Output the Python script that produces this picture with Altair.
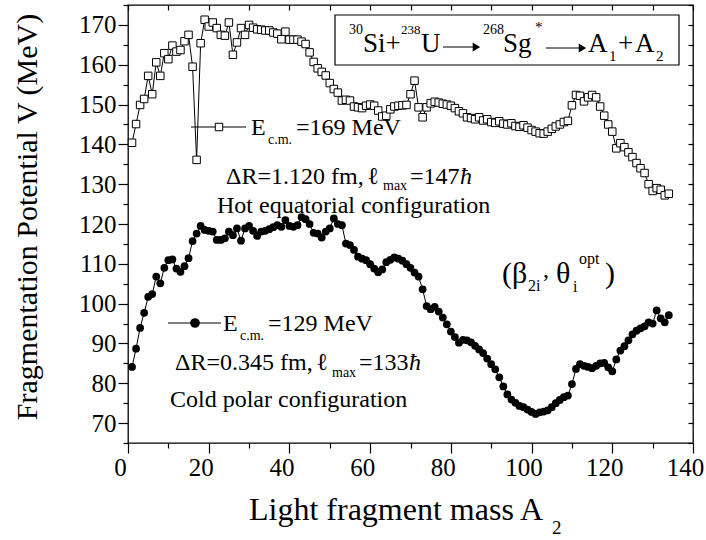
import altair as alt
import pandas as pd

# ---------------- data ----------------
A_hot = list(range(1, 135))
V_hot = [140.4, 145.1, 149.9, 151.4, 157.2, 152.6, 160.6, 157.2, 162.9, 161.4,
         164.8, 163.3, 163.7, 165.9, 167.5, 159.5, 136.1, 165.4, 171.3, 169.6,
         170.6, 169.2, 167.5, 167.3, 170.6, 162.5, 165.6, 169.2, 167.5, 170.0,
         169.3, 168.9, 168.8, 168.6, 168.6, 168.1, 167.8, 166.4, 168.3, 166.3,
         166.3, 166.3, 165.8, 165.2, 163.1, 160.7, 159.1, 158.2, 157.3, 155.4,
         153.9, 153.0, 151.0, 151.2, 151.0, 149.5, 149.3, 149.1, 149.7, 150.0,
         149.7, 148.5, 147.0, 147.2, 148.8, 149.5, 149.7, 149.8, 149.9, 152.6,
         156.0, 149.3, 146.8, 149.3, 150.3, 150.7, 150.5, 150.2, 150.0, 149.7,
         149.1, 148.3, 147.8, 146.8, 146.6, 146.3, 146.8, 146.0, 146.3, 145.6,
         145.4, 145.8, 145.2, 145.0, 145.3, 144.6, 144.4, 144.8, 144.2, 143.6,
         143.2, 142.8, 142.7, 143.2, 143.9, 144.5, 145.0, 145.6, 145.9, 149.8,
         152.4, 152.2, 150.8, 151.8, 152.4, 151.8, 149.5, 147.2, 145.0, 143.2,
         139.0, 140.3, 139.3, 138.0, 136.8, 135.3, 134.0, 132.8, 130.0, 128.3,
         129.0, 128.6, 127.2, 127.6]

A_cold = list(range(1, 135))
V_cold = [84.1, 88.7, 93.9, 97.7, 101.7, 102.4, 106.8, 105.1, 109.0, 110.9,
          111.1, 108.8, 108.0, 109.4, 111.4, 115.7, 117.6, 119.5, 118.5, 118.3,
          118.1, 116.0, 116.0, 116.4, 118.1, 117.2, 118.9, 115.8, 118.9, 119.5,
          118.3, 117.0, 118.1, 118.3, 118.7, 119.2, 119.7, 119.3, 121.0, 119.5,
          119.3, 119.7, 121.7, 121.2, 120.0, 117.8, 117.6, 116.6, 118.1, 118.9,
          121.4, 120.0, 119.7, 115.1, 114.7, 113.5, 111.8, 111.3, 110.9, 109.9,
          108.8, 107.9, 108.6, 110.4, 111.0, 111.6, 111.3, 110.8, 109.9, 109.0,
          107.8, 106.8, 103.6, 99.4, 98.6, 99.2, 98.0, 96.5, 94.8, 93.0,
          91.6, 90.2, 90.9, 90.8, 90.3, 89.4, 88.5, 87.6, 86.2, 84.8,
          83.5, 81.5, 79.2, 77.2, 75.9, 75.1, 74.3, 74.0, 73.4, 72.8,
          72.3, 72.7, 72.9, 73.2, 74.0, 75.0, 75.8, 76.5, 76.9, 79.8,
          83.6, 84.8, 84.4, 84.1, 83.8, 84.4, 85.0, 85.1, 84.0, 83.0,
          86.0, 88.2, 89.3, 90.8, 92.3, 93.2, 93.8, 94.3, 95.3, 95.0,
          98.3, 96.3, 95.3, 97.1]

x_tick_values = list(range(0, 141, 10))
y_tick_values = list(range(65, 176, 5))
x_domain = [0, 140]
y_domain = [65, 175]

hot = pd.DataFrame({"A": A_hot, "V": V_hot})
cold = pd.DataFrame({"A": A_cold, "V": V_cold})

# ---------------- layout ----------------
W, H = 565, 438
X0, Y0 = 128, 5
FONT = "Liberation Serif"

xs = alt.Scale(domain=x_domain, nice=False, zero=False)
ys = alt.Scale(domain=y_domain, nice=False, zero=False)

common_axis = dict(domain=False, grid=False, tickColor="black", tickWidth=1.2,
                   labelFont=FONT, labelFontSize=25, labelColor="black",
                   title=None, labelFlush=False, labelOverlap=False)

x_bottom = alt.Axis(orient="bottom", values=x_tick_values,
                    labelExpr="datum.value % 20 === 0 ? datum.label : ''",
                    tickSize={"condition": {"test": "datum.value % 20 === 0", "value": 10}, "value": 5},
                    labelPadding=2, labelOffset=-8, **common_axis)
y_left = alt.Axis(orient="left", values=y_tick_values,
                  labelExpr="datum.value % 10 === 0 ? datum.label : ''",
                  tickSize={"condition": {"test": "datum.value % 10 === 0", "value": 10}, "value": 5},
                  labelPadding=2, **common_axis)
x_top = alt.Axis(orient="top", values=x_tick_values, labels=False, tickSize=5,
                 offset=-5, domain=False, grid=False, tickColor="black", tickWidth=1.2, title=None)
y_right = alt.Axis(orient="right", values=y_tick_values, labels=False, tickSize=5,
                   offset=-5, domain=False, grid=False, tickColor="black", tickWidth=1.2, title=None)

hot_line = alt.Chart(hot).mark_line(color="black", strokeWidth=1).encode(
    x=alt.X("A:Q", scale=xs, axis=x_bottom),
    y=alt.Y("V:Q", scale=ys, axis=y_left),
)
hot_pts = alt.Chart(hot).mark_point(shape="square", filled=True, fill="white",
                                    stroke="black", strokeWidth=1, size=56, opacity=1).encode(
    x=alt.X("A:Q", scale=xs, axis=None),
    y=alt.Y("V:Q", scale=ys, axis=None),
)
cold_line = alt.Chart(cold).mark_line(color="black", strokeWidth=1).encode(
    x=alt.X("A:Q", scale=xs, axis=None),
    y=alt.Y("V:Q", scale=ys, axis=None),
)
cold_pts = alt.Chart(cold).mark_circle(color="black", size=60, opacity=1).encode(
    x=alt.X("A:Q", scale=xs, axis=x_top),
    y=alt.Y("V:Q", scale=ys, axis=y_right),
)

ONE = alt.Data(values=[{}])


def txt(s, x, y, size, style="normal", align="left", angle=0):
    return alt.Chart(ONE).mark_text(
        text=s, font=FONT, fontSize=size, fontStyle=style, align=align,
        baseline="alphabetic", angle=angle, color="black"
    ).encode(x=alt.value(x - X0), y=alt.value(y - Y0))


def hline(x1, x2, y, w=1):
    return alt.Chart(ONE).mark_rule(color="black", strokeWidth=w).encode(
        x=alt.value(x1 - X0), x2=alt.value(x2 - X0), y=alt.value(y - Y0))


def marker(x, y, shape, filled, size=56):
    if filled:
        m = alt.Chart(ONE).mark_point(shape=shape, filled=True, fill="black",
                                      stroke="black", size=size, opacity=1)
    else:
        m = alt.Chart(ONE).mark_point(shape=shape, filled=True, fill="white",
                                      stroke="black", strokeWidth=1, size=size, opacity=1)
    return m.encode(x=alt.value(x - X0), y=alt.value(y - Y0))


def arrow(x1, x2, y):
    return [hline(x1, x2 - 4, y, 1),
            alt.Chart(ONE).mark_point(shape="triangle-right", filled=True, fill="black",
                                      stroke="black", size=28, opacity=1).encode(
                x=alt.value(x2 - 4 - X0), y=alt.value(y - Y0))]


layers = [hot_line, hot_pts, cold_line, cold_pts]

# reaction box
layers.append(alt.Chart(ONE).mark_rect(fill="white", stroke="black", strokeWidth=1.2).encode(
    x=alt.value(335 - X0), x2=alt.value(679 - X0), y=alt.value(15 - Y0), y2=alt.value(65 - Y0)))
layers += [
    txt("30", 349, 34, 14),
    txt("Si+", 363, 52, 27),
    txt("238", 401, 34, 13),
    txt("U", 421, 52, 27),
    txt("268", 483, 34, 14),
    txt("Sg", 503, 52, 27),
    txt("*", 535, 32, 15),
    txt("A", 588, 52, 27),
    txt("1", 609, 61, 15),
    txt("+", 618, 52, 27),
    txt("A", 635, 52, 27),
    txt("2", 656, 61, 15),
]
layers += arrow(443, 480, 47)
layers += arrow(546, 586, 48)

# hot legend
layers += [
    hline(191, 246, 127),
    marker(219, 127, "square", False),
    txt("E", 251, 135, 24),
    txt("c.m.", 268, 144, 14),
    txt("=169 MeV", 296, 135, 24),
    txt("\u0394R=1.120 fm,", 226, 184, 24),
    txt("\u2113", 367, 184, 24),
    txt("max", 383, 190, 14),
    txt("=147", 410, 184, 24),
    txt("\u0127", 460, 184, 24, style="italic"),
    txt("Hot equatorial configuration", 217, 213, 24),
]
# cold legend
layers += [
    hline(168, 221, 323),
    marker(195, 323, "circle", True, 60),
    txt("E", 223, 331, 24),
    txt("c.m.", 240, 340, 14),
    txt("=129 MeV", 268, 331, 24),
    txt("\u0394R=0.345 fm,", 175, 370, 24),
    txt("\u2113", 316, 370, 24),
    txt("max", 332, 377, 14),
    txt("=133", 359, 370, 24),
    txt("\u0127", 409, 370, 24, style="italic"),
    txt("Cold polar configuration", 170, 407, 24),
]
# deformation label
layers += [
    txt("(\u03b2", 502, 283, 30),
    txt("2i", 528, 291, 16),
    txt(",", 543, 277, 24),
    txt("\u03b8", 556, 283, 30),
    txt("i", 573, 292, 16),
    txt("opt", 579, 264, 16),
    txt(")", 605, 283, 30),
]
# axis titles
layers += [
    txt("Fragmentation Potential V (MeV)", 37, 217, 30, align="center", angle=270),
    txt("Light fragment mass A", 249, 520, 32),
    txt("2", 552, 534, 19),
]

chart = alt.layer(*layers).resolve_axis(x="independent", y="independent").properties(
    width=W, height=H,
    autosize=alt.AutoSizeParams(type="none"),
    padding={"left": X0, "top": Y0, "right": 706 - X0 - W, "bottom": 540 - Y0 - H},
    background="white",
).configure_view(stroke="black", strokeWidth=1.3)

chart.save("out.html", embed_options={"renderer": "svg", "actions": False})
